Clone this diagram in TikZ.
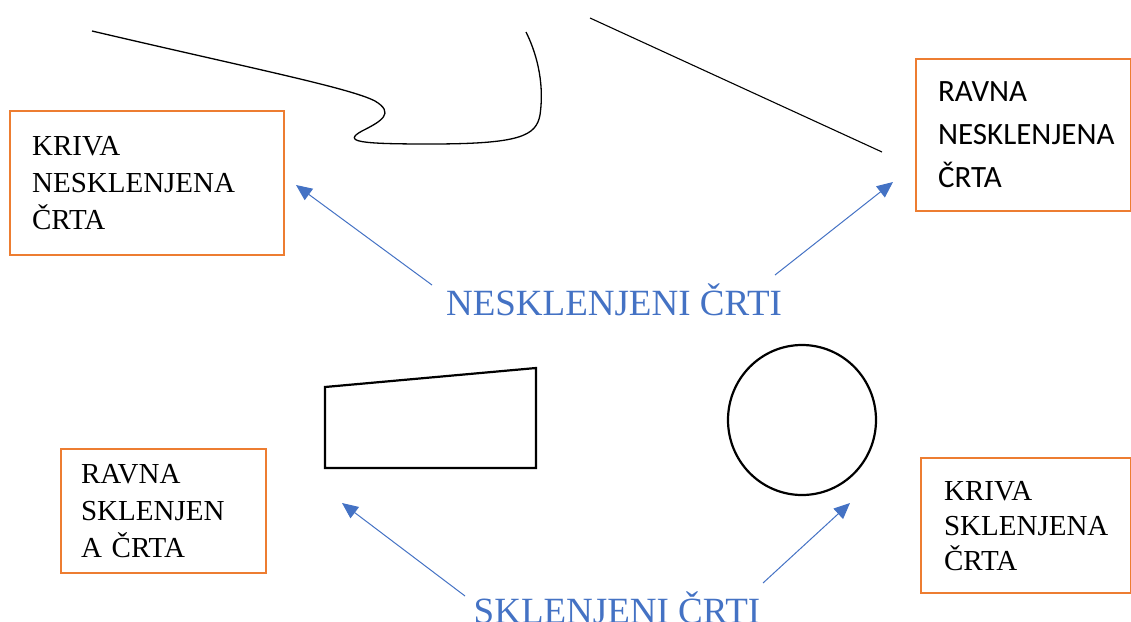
\documentclass[tikz,border=0pt]{standalone}
\usepackage{fontspec}
\setmainfont{Liberation Serif}
\newfontfamily\calib{Carlito}
\usetikzlibrary{arrows.meta,shapes.geometric}
\definecolor{boxorange}{HTML}{ED7D31}
\definecolor{arrowblue}{HTML}{4472C4}
\tikzset{
  lbox/.style={draw=boxorange, line width=2.2pt, anchor=north west, align=left, inner sep=0pt},
  blab/.style={text=arrowblue, font=\fontsize{37}{44}\selectfont, inner sep=0pt},
  barrow/.style={draw=arrowblue, line width=1pt, -{Triangle[length=16pt,width=14pt]}},
  shapeline/.style={draw=black, line width=2.2pt},
  thinline/.style={draw=black, line width=1.3pt}
}
\begin{document}
\begin{tikzpicture}[x=1pt,y=-1pt]
\useasboundingbox (0,0) rectangle (1131,621);
% boxes
\node[lbox, minimum width=274pt, minimum height=144pt, text width=230pt,
      font=\fontsize{29}{37}\selectfont] (b1) at (9,110) {KRIVA\\NESKLENJENA\\ČRTA};
\node[lbox, minimum width=215pt, minimum height=152pt, text width=171pt,
      font=\calib\fontsize{31}{43}\selectfont] (b2) at (915,58) {RAVNA\\NESKLENJENA\\ČRTA};
\node[lbox, minimum width=205pt, minimum height=124pt, text width=165pt,
      font=\fontsize{29}{37}\selectfont] (b3) at (60,448) {RAVNA\\SKLENJEN\\A ČRTA};
\node[lbox, minimum width=210pt, minimum height=135pt, text width=164pt,
      font=\fontsize{29}{35}\selectfont] (b4) at (920,457) {KRIVA\\SKLENJENA\\ČRTA};
% labels
\node[blab] (nes) at (614,300) {NESKLENJENI ČRTI};
\node[blab] (skl) at (617,608) {SKLENJENI ČRTI};
% drawings
\draw[thinline] (92,31) .. controls (250,68) and (350,88) .. (375,101)
  .. controls (395,113) and (382,121) .. (362,131)
  .. controls (342,142) and (360,144) .. (430,144)
  .. controls (520,144) and (536,136) .. (540,115)
  .. controls (545,80) and (535,50) .. (526,32);
\coordinate (l1) at (590,18);
\coordinate (l2) at (882,152);
\draw[thinline, line width=1.1pt] (l1) -- (l2);
\draw[shapeline] (325,387) -- (536,368) -- (536,468) -- (325,468) -- cycle;
\node[shapeline, draw, ellipse, minimum width=148pt, minimum height=150pt, inner sep=0pt] (circ) at (802,420) {};
% arrows
\coordinate (a1s) at (432,285); \coordinate (a1e) at (296,185);
\coordinate (a2s) at (775,275); \coordinate (a2e) at (893,182);
\coordinate (a3s) at (465,596); \coordinate (a3e) at (342,503);
\coordinate (a4s) at (763,583); \coordinate (a4e) at (850,503);
\draw[barrow] (a1s) -- (a1e);
\draw[barrow] (a2s) -- (a2e);
\draw[barrow] (a3s) -- (a3e);
\draw[barrow] (a4s) -- (a4e);
\end{tikzpicture}
\end{document}
